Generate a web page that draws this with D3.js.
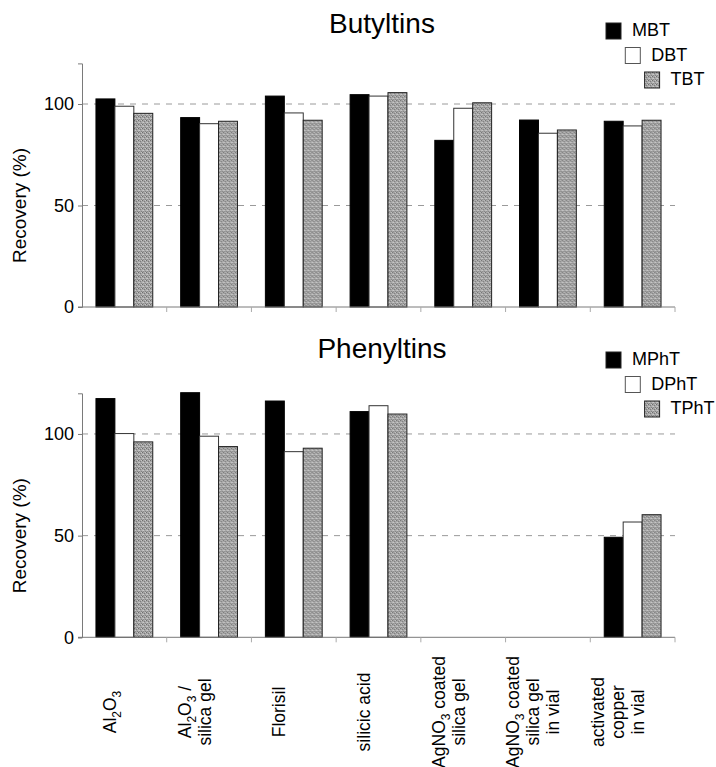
<!DOCTYPE html>
<html>
<head>
<meta charset="utf-8">
<script src="https://cdn.jsdelivr.net/npm/d3@7"></script>
<style>
  html, body { margin: 0; padding: 0; background: #fff; }
  svg { display: block; font-family: "Liberation Sans", Arial, sans-serif; }
</style>
</head>
<body>
<svg id="chart" width="716" height="767"></svg>
<script>
// Clean-up methods (x categories); "_n" marks a subscript digit
const categoryLabels = [
  ["Al_2O_3"],
  ["Al_2O_3 /", "silica gel"],
  ["Florisil"],
  ["silicic acid"],
  ["AgNO_3 coated", "silica gel"],
  ["AgNO_3 coated", "silica gel", "in vial"],
  ["activated", "copper", "in vial"]
];
const categories = categoryLabels.map((d, i) => i);

// Butyltins recovery (%)
const butylSeries = ["MBT", "DBT", "TBT"];
const butylMBT = [102.5, 93.3, 103.9, 104.6, 82.1, 92.1, 91.5];
const butylDBT = [98.9, 90.3, 95.6, 103.9, 97.9, 85.6, 89.2];
const butylTBT = [95.4, 91.5, 92.0, 105.6, 100.6, 87.2, 92.0];

// Phenyltins recovery (%); null = not determined
const phenylSeries = ["MPhT", "DPhT", "TPhT"];
const phenylMPhT = [117.4, 120.3, 116.2, 111.0, null, null, 49.2];
const phenylDPhT = [100.2, 98.9, 91.3, 113.9, null, null, 56.7];
const phenylTPhT = [96.1, 93.8, 93.0, 109.8, null, null, 60.3];

const yTicks = [0, 50, 100];
const yMax = 120;

const svg = d3.select("#chart");
const axisColor = "#7a7a7a";

// stippled grey fill for the third series
const defs = svg.append("defs");
const pat = defs.append("pattern")
  .attr("id", "stipple").attr("patternUnits", "userSpaceOnUse")
  .attr("width", 4).attr("height", 4);
pat.append("rect").attr("width", 4).attr("height", 4).attr("fill", "#a6a6a6");
[[0,0,"#6e6e6e"],[2,1,"#7c7c7c"],[1,2,"#cacaca"],[3,3,"#828282"],[3,0,"#c6c6c6"],[1,3,"#8e8e8e"],[0,2,"#bdbdbd"]]
  .forEach(([x, y, c]) => pat.append("rect").attr("x", x).attr("y", y)
    .attr("width", 1).attr("height", 1).attr("fill", c));

const fills = ["#000", "#fff", "url(#stipple)"];
const strokes = ["#000", "#333", "#222"];

const x0 = d3.scaleBand().domain(categories).range([82, 675]).paddingInner(0).paddingOuter(0);
const x1 = d3.scaleBand().domain([0, 1, 2]).range([0, x0.bandwidth()])
  .paddingInner(0).paddingOuter(0.737);

function panel(opts) {
  const { title, titleY, top, bottom, series, values, legendTop } = opts;
  const y = d3.scaleLinear().domain([0, yMax]).range([bottom, top]);
  const g = svg.append("g");

  // title
  g.append("text").attr("x", 382).attr("y", titleY)
    .attr("text-anchor", "middle").attr("font-size", 28).text(title);

  // dashed gridlines
  g.selectAll(".grid").data(yTicks.filter(d => d > 0)).join("line")
    .attr("x1", 82).attr("x2", 675)
    .attr("y1", d => y(d)).attr("y2", d => y(d))
    .attr("stroke", "#9a9a9a").attr("stroke-width", 1)
    .attr("stroke-dasharray", "6,6");

  // bars
  const rows = categories.map(c => series.map((s, k) => ({ c, k, v: values[k][c] })));
  g.selectAll(".grp").data(rows).join("g")
    .attr("transform", d => `translate(${x0(d[0].c)},0)`)
    .selectAll("rect").data(d => d.filter(e => e.v != null)).join("rect")
    .attr("x", d => x1(d.k)).attr("width", x1.bandwidth())
    .attr("y", d => y(d.v)).attr("height", d => y(0) - y(d.v))
    .attr("fill", d => fills[d.k]).attr("stroke", d => strokes[d.k])
    .attr("stroke-width", 1);

  // y axis
  const yAxis = d3.axisLeft(y).tickValues(yTicks).tickSize(4).tickPadding(4);
  const ya = g.append("g").attr("transform", "translate(82,0)").call(yAxis);
  ya.select(".domain").attr("stroke", axisColor);
  ya.selectAll(".tick line").attr("stroke", axisColor);
  ya.selectAll(".tick text").attr("font-size", 18).attr("fill", "#000")
    .attr("font-family", "Liberation Sans, Arial, sans-serif");

  // x axis: boundary ticks only
  const xa = g.append("g");
  xa.append("line").attr("x1", 78).attr("x2", 675)
    .attr("y1", y(0)).attr("y2", y(0)).attr("stroke", axisColor);
  const bounds = categories.map(c => x0(c)).concat([x0.range()[1]]);
  xa.selectAll(".xt").data(bounds.slice(1)).join("line")
    .attr("x1", d => d).attr("x2", d => d)
    .attr("y1", y(0)).attr("y2", y(0) + 5).attr("stroke", "#aaa");

  // y title
  g.append("text")
    .attr("transform", `translate(26,${y(50)}) rotate(-90)`)
    .attr("text-anchor", "middle").attr("font-size", 19).text("Recovery (%)");

  // legend (staircase)
  series.forEach((s, k) => {
    const lx = 606 + 19.3 * k, ly = legendTop + 24.5 * k;
    g.append("rect").attr("x", lx).attr("y", ly).attr("width", 15).attr("height", 16)
      .attr("fill", fills[k]).attr("stroke", k === 1 ? "#555" : "#222");
    g.append("text").attr("x", lx + 26).attr("y", ly + 13)
      .attr("font-size", 18).text(s);
  });
}

panel({ title: "Butyltins", titleY: 33, top: 63.4, bottom: 307,
  series: butylSeries, values: [butylMBT, butylDBT, butylTBT], legendTop: 23 });
panel({ title: "Phenyltins", titleY: 357.7, top: 393.3, bottom: 637.3,
  series: phenylSeries, values: [phenylMPhT, phenylDPhT, phenylTPhT], legendTop: 352 });

// category labels, rotated, with subscript digits
function addRich(textSel, str) {
  const parts = str.split(/(_\d)/).filter(p => p.length);
  parts.forEach(p => {
    if (p[0] === "_") {
      textSel.append("tspan").attr("font-size", 12).attr("baseline-shift", -5).text(p[1]);
    } else {
      textSel.append("tspan").text(p);
    }
  });
}
const labelG = svg.append("g");
categoryLabels.forEach((lines, i) => {
  const cx = x0(i) + x0.bandwidth() / 2;
  const n = lines.length;
  const b0 = cx - 8.5 - 10 * (n - 1);
  lines.forEach((ln, j) => {
    const t = labelG.append("text")
      .attr("transform", `translate(${b0 + 20 * j},712) rotate(-90)`)
      .attr("text-anchor", "middle").attr("font-size", 17.5);
    addRich(t, ln);
  });
});
</script>
</body>
</html>
